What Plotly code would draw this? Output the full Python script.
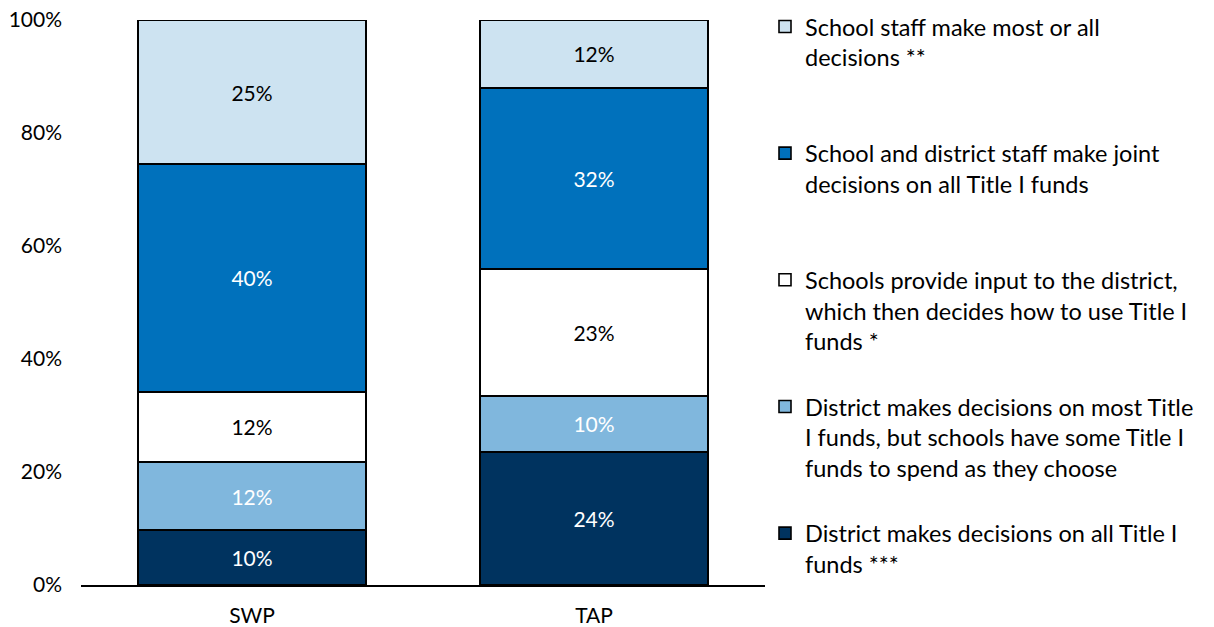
import plotly.graph_objects as go

groups = ["SWP", "TAP"]

# segments from bottom to top (share of schools, %)
series_names = [
    "District makes decisions on all Title I<br>funds ***",
    "District makes decisions on most Title<br>I funds, but schools have some Title I<br>funds to spend as they choose",
    "Schools provide input to the district,<br>which then decides how to use Title I<br>funds *",
    "School and district staff make joint<br>decisions on all Title I funds",
    "School staff make most or all<br>decisions **",
]
swp_values = [9.7, 12.1, 12.4, 40.3, 25.5]
tap_values = [23.5, 10.0, 22.4, 32.1, 12.0]
swp_labels = ["10%", "12%", "12%", "40%", "25%"]
tap_labels = ["24%", "10%", "23%", "32%", "12%"]

colors = ["#00335f", "#80b7dd", "#ffffff", "#0071bc", "#cde3f1"]
text_colors = ["white", "white", "black", "white", "black"]

FONT = "Lato"

fig = go.Figure()
for i, name in enumerate(series_names):
    # pad legend text to 3 lines so entries are evenly spaced (last one shown needs none)
    n_lines = name.count("<br>") + 1
    legend_text = name if i == 0 else name + "<br> " * (3 - n_lines)
    fig.add_trace(go.Bar(
        x=groups,
        y=[swp_values[i], tap_values[i]],
        name=legend_text,
        legendgroup=str(i),
        legendrank=len(series_names) - i,
        text=[swp_labels[i], tap_labels[i]],
        textposition="inside",
        insidetextanchor="middle",
        textfont=dict(color=text_colors[i], size=21, family=FONT),
        marker=dict(color=colors[i], line=dict(color="black", width=1.6)),
    ))

fig.update_layout(
    barmode="stack",
    bargap=0.333,
    width=1214,
    height=627,
    margin=dict(l=81, r=449, t=20, b=42, autoexpand=False),
    paper_bgcolor="white",
    plot_bgcolor="white",
    font=dict(family=FONT, size=21, color="black"),
    legend=dict(
        traceorder="grouped",
        x=1.0,
        xanchor="left",
        y=1.027,
        yanchor="top",
        valign="top",
        tracegroupgap=32,
        font=dict(size=23.5, family=FONT),
        itemwidth=30,
        maxheight=1.0,
    ),
    showlegend=True,
)
fig.update_yaxes(
    range=[0, 100],
    tickvals=[0, 20, 40, 60, 80, 100],
    ticktext=["0%", "20%", "40%", "60%", "80%", "100%"],
    showgrid=False,
    zeroline=False,
    showline=False,
    ticks="",
    ticklabelstandoff=18,
    ticklabeloverflow="allow",
)
fig.update_xaxes(
    showline=True,
    linecolor="black",
    linewidth=1.6,
    ticks="",
    showgrid=False,
    ticklabelstandoff=11,
)

# drop the default 8px body margin so the figure fills the window
fig.write_html(
    "out.html",
    config={"displayModeBar": False},
    post_script="document.body.style.margin = '0';",
)
